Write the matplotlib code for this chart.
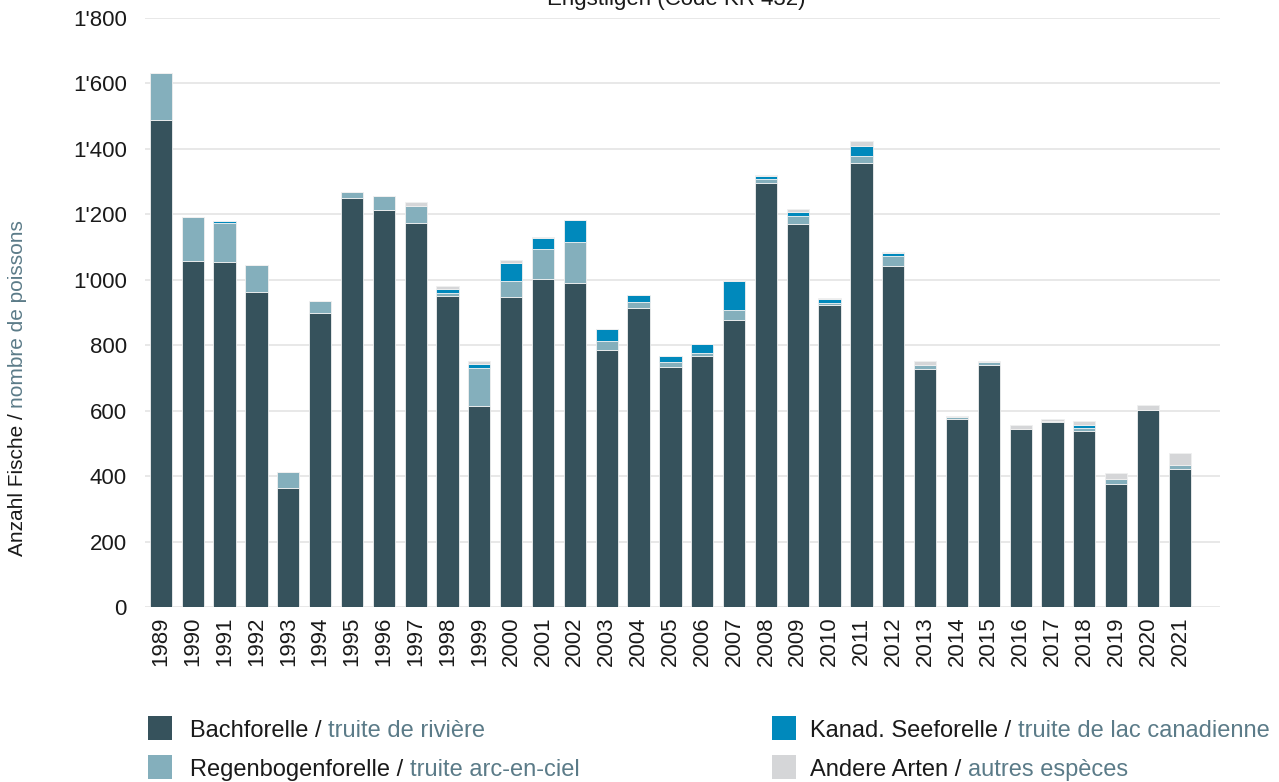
import matplotlib
matplotlib.use("Agg")
import matplotlib.pyplot as plt
from matplotlib.patches import Rectangle
import numpy as np

plt.rcParams['font.family'] = ['Liberation Sans', 'DejaVu Sans']

years = [str(y) for y in range(1989, 2022)]
bach = [1488, 1057, 1054, 963, 364, 898, 1251, 1213, 1174, 950, 614, 948, 1003, 989, 784, 915, 733,
        767, 876, 1297, 1170, 922, 1358, 1042, 726, 574, 739, 543, 565, 537, 376, 602, 423]
regen = [143, 135, 121, 83, 49, 37, 17, 43, 52, 9, 117, 48, 91, 127, 28, 16, 15,
         8, 31, 12, 26, 6, 20, 32, 14, 6, 9, 2, 2, 10, 16, 0, 10]
kanad = [0, 0, 5, 0, 0, 0, 0, 0, 0, 12, 12, 56, 34, 66, 39, 22, 19,
         28, 89, 8, 12, 12, 31, 9, 0, 0, 0, 0, 0, 9, 0, 0, 0]
andere = [0, 0, 0, 0, 0, 0, 0, 0, 11, 10, 9, 8, 4, 2, 0, 0, 0,
          0, 3, 3, 7, 3, 15, 3, 13, 3, 5, 12, 7, 12, 18, 15, 37]

series_de = ["Bachforelle", "Regenbogenforelle", "Kanad. Seeforelle", "Andere Arten"]
series_fr = ["truite de rivière", "truite arc-en-ciel", "truite de lac canadienne", "autres espèces"]
colors = ["#36525c", "#84afbc", "#0089bc", "#d5d6d8"]
yticks = [0, 200, 400, 600, 800, 1000, 1200, 1400, 1600, 1800]
ytick_labels = ["0", "200", "400", "600", "800", "1'000", "1'200", "1'400", "1'600", "1'800"]
title = "Engstligen (Code KR 432)"
ylabel_de = "Anzahl Fische / "
ylabel_fr = "nombre de poissons"

W, H = 1279, 782
fig = plt.figure(figsize=(W / 100, H / 100), dpi=100)
ax = fig.add_axes([145 / W, 1 - 607 / H, (1220 - 145) / W, (607 - 18) / H])

x = np.arange(len(years))
bottom = np.zeros(len(years))
for vals, c in zip([bach, regen, kanad, andere], colors):
    v = np.array(vals, dtype=float)
    ax.bar(x, v, bottom=bottom, width=0.7, color=c, edgecolor="#f0f0f0", linewidth=0.6, zorder=3)
    bottom += v

ax.set_xlim(-0.5, 33.26)
ax.set_ylim(0, 1800)
ax.set_yticks(yticks)
ax.set_yticklabels(ytick_labels)
ax.set_xticks(x)
ax.set_xticklabels(years, rotation=90)
ax.tick_params(axis='both', length=0, labelsize=16, colors="#1a1a1a")
ax.tick_params(axis='y', pad=13)
ax.tick_params(axis='x', pad=7)
for s in ax.spines.values():
    s.set_visible(False)
ax.grid(axis='y', color="#e6e6e6", linewidth=1.3, zorder=0)
ax.set_axisbelow(True)

# title (clipped at top as in reference)
fig.text(676 / W, 1 - 5 / H, title, ha='center', va='baseline', fontsize=16, color="#1a1a1a")

# y label in two colors
t1 = fig.text(18 / W, 1 - 556 / H, ylabel_de, rotation=90, ha='center', va='bottom',
              fontsize=15, color="#1a1a1a")
ax.annotate(ylabel_fr, xy=(0.5, 1), xycoords=t1, rotation=90, ha='center', va='bottom',
            fontsize=15, color="#5b7b88", annotation_clip=False)

# legend
pos = [(148, 716, 190), (148, 755, 190), (772, 716, 810), (772, 755, 810)]
for (sx, sy, tx), de, fr, c in zip(pos, series_de, series_fr, colors):
    fig.patches.append(Rectangle((sx / W, 1 - (sy + 24) / H), 24 / W, 24 / H,
                                 transform=fig.transFigure, facecolor=c, edgecolor='none'))
    ta = fig.text(tx / W, 1 - (sy + 15) / H, de + " / ", ha='left', va='center',
                  fontsize=17, color="#1a1a1a")
    ax.annotate(fr, xy=(1, 0), xycoords=ta, ha='left', va='bottom',
                fontsize=17, color="#5b7b88", annotation_clip=False)

fig.savefig("out.png", dpi=100)
